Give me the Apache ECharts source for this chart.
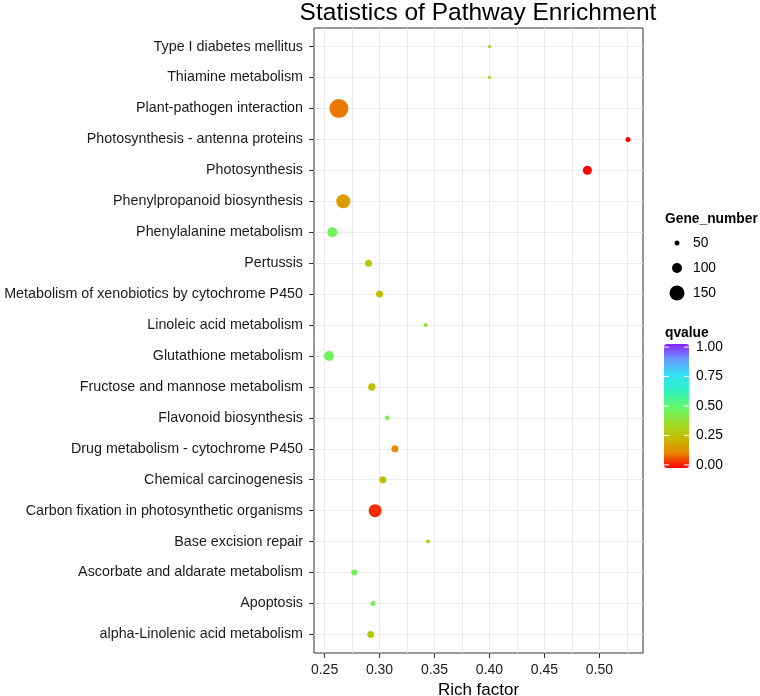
<!DOCTYPE html>
<html><head><meta charset="utf-8">
<script src="https://cdn.jsdelivr.net/npm/echarts@6/dist/echarts.min.js"></script>
<style>html,body{margin:0;padding:0;background:#fff}#c{width:760px;height:696px}</style>
</head><body><div id="c"></div><script>
// bottom-to-top order (as in the reference)
const categories = ['alpha-Linolenic acid metabolism','Apoptosis','Ascorbate and aldarate metabolism','Base excision repair','Carbon fixation in photosynthetic organisms','Chemical carcinogenesis','Drug metabolism - cytochrome P450','Flavonoid biosynthesis','Fructose and mannose metabolism','Glutathione metabolism','Linoleic acid metabolism','Metabolism of xenobiotics by cytochrome P450','Pertussis','Phenylalanine metabolism','Phenylpropanoid biosynthesis','Photosynthesis','Photosynthesis - antenna proteins','Plant-pathogen interaction','Thiamine metabolism','Type I diabetes mellitus'];
const richFactor = [0.292,0.294,0.277,0.344,0.296,0.303,0.314,0.307,0.293,0.254,0.342,0.300,0.290,0.257,0.267,0.489,0.526,0.263,0.400,0.400];
const geneNumber = [70,50,60,40,130,70,70,45,75,100,40,70,70,100,140,90,50,190,33,33];
const qValue = [0.28,0.45,0.45,0.32,0.04,0.25,0.14,0.44,0.25,0.46,0.38,0.25,0.27,0.46,0.17,0.0,0.0,0.11,0.33,0.33];
const xTicks = [0.25,0.30,0.35,0.40,0.45,0.50];
const xGridLines = [0.25,0.275,0.30,0.325,0.35,0.375,0.40,0.425,0.45,0.475,0.50,0.525];
const sizeBreaks = [50,100,150];
const qTicks = [0,0.25,0.5,0.75,1];
const qColors = ['#ff0000','#e88800','#c0c000','#98e030','#60fa70','#30f0c0','#30e0f0','#6a9cff','#8a20ff'];

const FONT = 'Liberation Sans';
const geneSize = g => g / 10;

const data = categories.map((c, i) => [richFactor[i], i, geneNumber[i], qValue[i]]);

// colour bar geometry
const bar = {x: 664, y: 344, w: 25, h: 124};
const nbin = 20;
const binH = bar.h / nbin;
const qToY = q => bar.y + bar.h - binH / 2 - q * (bar.h - binH);

const graphics = [];
graphics.push({type: 'text', x: 478, y: 13, style: {text: 'Statistics of Pathway Enrichment', font: '24.5px ' + FONT, fill: '#000', textAlign: 'center', textVerticalAlign: 'middle'}});
graphics.push({type: 'text', x: 665, y: 219, style: {text: 'Gene_number', font: 'bold 13.8px ' + FONT, fill: '#000', textVerticalAlign: 'middle'}});
sizeBreaks.forEach((b, k) => {
  const cy = 243 + k * 25;
  graphics.push({type: 'circle', shape: {cx: 677, cy: cy, r: geneSize(b) / 2}, style: {fill: '#000'}});
  graphics.push({type: 'text', x: 693, y: cy, style: {text: String(b), font: '13.8px ' + FONT, fill: '#000', textVerticalAlign: 'middle'}});
});
graphics.push({type: 'text', x: 665, y: 333, style: {text: 'qvalue', font: 'bold 13.8px ' + FONT, fill: '#000', textVerticalAlign: 'middle'}});
qTicks.forEach(q => {
  const y = qToY(q);
  graphics.push({type: 'text', x: 696, y: y, style: {text: q.toFixed(2), font: '13.8px ' + FONT, fill: '#000', textVerticalAlign: 'middle'}});
  graphics.push({type: 'line', z: 100, shape: {x1: bar.x, y1: y, x2: bar.x + 5, y2: y}, style: {stroke: '#fff', lineWidth: 1}});
  graphics.push({type: 'line', z: 100, shape: {x1: bar.x + bar.w - 5, y1: y, x2: bar.x + bar.w, y2: y}, style: {stroke: '#fff', lineWidth: 1}});
});

const chart = echarts.init(document.getElementById('c'), null, {renderer: 'canvas'});
chart.setOption({
  animation: false,
  backgroundColor: '#fff',
  textStyle: {fontFamily: FONT},
  grid: {left: 314, right: 117, top: 28, bottom: 43, show: true, borderColor: '#333', borderWidth: 1, backgroundColor: '#fff', containLabel: false, outerBoundsMode: 'none'},
  xAxis: [{
    type: 'value', min: 0.2404, max: 0.5396,
    axisLine: {show: false, onZero: false},
    axisTick: {show: true, length: 5, lineStyle: {color: '#333'}, customValues: xTicks},
    axisLabel: {customValues: xTicks, formatter: v => v.toFixed(2), fontSize: 14, color: '#1a1a1a', margin: 10, fontFamily: FONT},
    splitLine: {show: false},
    name: 'Rich factor', nameLocation: 'middle', nameGap: 25,
    nameTextStyle: {fontSize: 17, color: '#000', fontFamily: FONT}
  }, {
    type: 'value', min: 0.2404, max: 0.5396, position: 'bottom',
    axisLine: {show: false, onZero: false}, axisLabel: {show: false},
    axisTick: {show: false, customValues: xGridLines},
    splitLine: {show: true, lineStyle: {color: '#ebebeb', width: 1}}
  }],
  yAxis: {
    type: 'value', min: -0.6, max: 19.6,
    axisLine: {show: false, onZero: false},
    axisTick: {show: true, length: 5, lineStyle: {color: '#333'}, customValues: categories.map((c, i) => i)},
    axisLabel: {customValues: categories.map((c, i) => i), formatter: v => categories[Math.round(v)], fontSize: 14.3, color: '#1a1a1a', margin: 11, fontFamily: FONT},
    splitLine: {show: true, lineStyle: {color: '#ebebeb', width: 1}}
  },
  visualMap: {
    type: 'continuous', min: 0, max: 1, dimension: 3, seriesIndex: 0,
    calculable: false, show: true, left: bar.x, top: bar.y, itemWidth: bar.w, itemHeight: bar.h,
    padding: 0, text: null, showLabel: false, hoverLink: false,
    inRange: {color: qColors}
  },
  series: [{
    type: 'scatter', xAxisIndex: 0, data: data,
    symbolSize: v => geneSize(v[2]),
    itemStyle: {opacity: 1, borderWidth: 0},
    z: 10
  }],
  graphic: graphics
});
</script></body></html>
